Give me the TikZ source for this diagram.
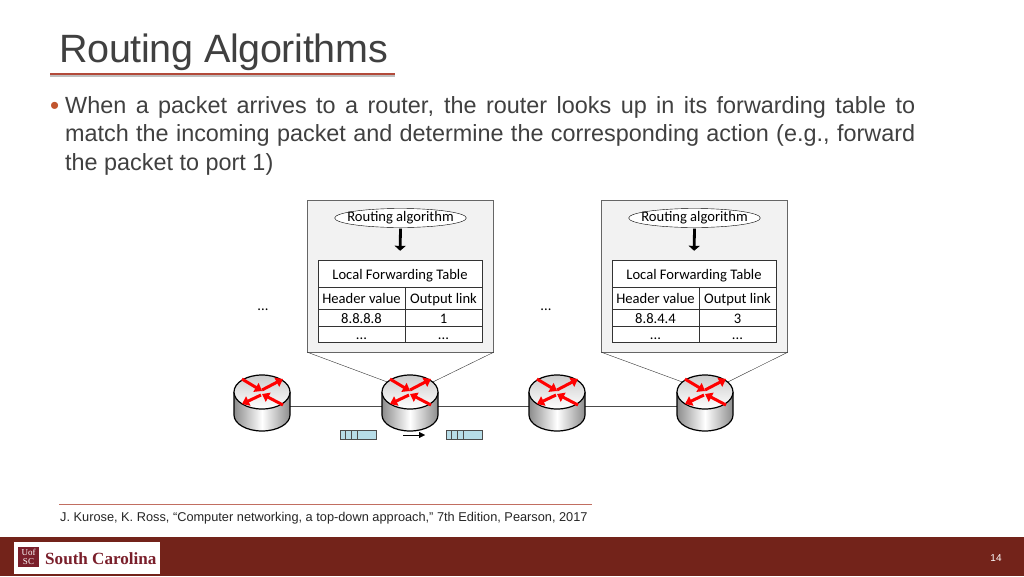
\documentclass[tikz,border=0pt]{standalone}
\usepackage{fontspec}
\usepackage{tikz}
\usetikzlibrary{arrows.meta,shapes.geometric}
\setmainfont{Liberation Sans}
\newfontfamily\tablefont{Carlito}
\newfontfamily\logofont{Liberation Serif}
\definecolor{barred}{HTML}{73231A}
\definecolor{rulered}{HTML}{B24A3A}
\definecolor{logored}{HTML}{7A1F2B}
\definecolor{panelgray}{HTML}{F2F2F2}
\definecolor{queueblue}{HTML}{B7DDE8}
\begin{document}
\begin{tikzpicture}[x=1pt,y=-1pt]
	\tikzstyle{panel}=[rectangle,draw=black!60,fill=panelgray,minimum width=186pt,minimum height=152pt,inner sep=0pt]
	\tikzstyle{algo}=[ellipse,draw=black,fill=white,minimum width=131pt,minimum height=19pt,inner sep=-6.7pt,text height=8pt,text depth=2pt,font=\tablefont\fontsize{14.6}{16}\selectfont]
	\tikzstyle{cell}=[rectangle,draw=black!80,fill=white,inner sep=0pt,text height=11pt,text depth=0pt,font=\tablefont\fontsize{14.6}{16}\selectfont]
	\tikzstyle{routerbox}=[rectangle,minimum width=46pt,minimum height=48pt,inner sep=0pt]
	\tikzstyle{dots}=[inner sep=0pt,font=\tablefont\fontsize{14.6}{16}\selectfont]
	\tikzstyle{queue}=[rectangle,draw=black!70,fill=queueblue,minimum width=36pt,minimum height=9pt,inner sep=0pt]
	\tikzstyle{redarrow}=[red,line width=3pt,-{Triangle[width=10pt,length=7pt]}]
	\useasboundingbox (0,0) rectangle (1024,576);
	\fill[white] (0,0) rectangle (1024,576);
	% header
	\node[anchor=base west,inner sep=0pt,text=black!75,font=\fontsize{39.5}{41}\selectfont\addfontfeatures{LetterSpace=-0.8}] (title) at (59,62.5) {Routing Algorithms};
	\fill[black!25] (50,75) rectangle (395,76.5);
	\draw[rulered,line width=2pt] (50,73.5) -- (395,73.5);
	\node[anchor=base west,inner sep=0pt,text=rulered!80!orange,font=\fontsize{26}{28}\selectfont] (bullet) at (50,114.5) {•};
	\node[anchor=north west,inner sep=0pt,text width=850pt,align=justify,text=black!75,font=\fontsize{23.4}{28.5}\selectfont] (body) at (65,96.2) {When a packet arrives to a router, the router looks up in its forwarding table to match the incoming packet and determine the corresponding action (e.g., forward the packet to port 1)};
	% routers
	\node[routerbox] (r1) at (262,406) {};
	\node[routerbox] (r2) at (410,406) {};
	\node[routerbox] (r3) at (557,406) {};
	\node[routerbox] (r4) at (705,406) {};
	% forwarding panels
	\foreach \i/\dx/\hval/\oval in {1/0/8.8.8.8/1,2/294/8.8.4.4/3}{
		\node[panel] (p\i) at (400.5+\dx,276) {};
		\node[algo] (a\i) at (400.5+\dx,218) {Routing algorithm};
		\node[cell,minimum width=164pt,minimum height=27pt] (t\i) at (400+\dx,273.5) {Local Forwarding Table};
		\node[cell,minimum width=87pt,minimum height=22pt] (h\i) at (361.5+\dx,298) {Header value};
		\node[cell,minimum width=77pt,minimum height=22pt] (o\i) at (443.5+\dx,298) {Output link};
		\node[cell,minimum width=87pt,minimum height=17pt] (v\i) at (361.5+\dx,317.5) {\hval};
		\node[cell,minimum width=77pt,minimum height=17pt] (w\i) at (443.5+\dx,317.5) {\oval};
		\node[cell,minimum width=87pt,minimum height=16pt] (x\i) at (361.5+\dx,334) {...};
		\node[cell,minimum width=77pt,minimum height=16pt] (y\i) at (443.5+\dx,334) {...};
		\draw[line width=2.8pt,-{Triangle[width=11pt,length=5pt]},shorten <=1pt,shorten >=9pt] (a\i.south) -- (t\i.north);
	}
	\node[dots] (d1) at (263,310) {...};
	\node[dots] (d2) at (546,310) {...};
	% links
	\draw[black!70] (r1) -- (r2);
	\draw[black!70] (r2) -- (r3);
	\draw[black!70] (r3) -- (r4);
	\draw[black!80] (p1.south west) -- (r2.north west);
	\draw[black!80] (p1.south east) -- (r2.north east);
	\draw[black!80] (p2.south west) -- (r4.north west);
	\draw[black!80] (p2.south east) -- (r4.north east);
	% router bodies
	\foreach \r in {r1,r2,r3,r4}{
		\begin{scope}[shift={(\r)}]
			\path[left color=black!45,right color=black!45,middle color=white] (-28,-14) -- (-28,9) arc[start angle=180,end angle=0,x radius=28,y radius=16] -- (28,-14) -- cycle;
			\draw[line width=1.2pt] (-28,-14) -- (-28,9) arc[start angle=180,end angle=0,x radius=28,y radius=16] -- (28,-14);
			\draw[line width=1.2pt,top color=black!20,bottom color=white] (0,-14) ellipse[x radius=28,y radius=17];
			\draw[redarrow] (-20,-27) -- (0,-15);
			\draw[redarrow] (0,-16) -- (21,-27);
			\draw[redarrow] (-1,-11) -- (-20,-2);
			\draw[redarrow] (21,-1) -- (0,-12);
		\end{scope}
	}
	% queues
	\foreach \i/\qx in {1/358,2/464.5}{
		\node[queue] (q\i) at (\qx,434.5) {};
		\foreach \k in {-13,-7,-1}
			\draw[black!70] (\qx+\k,430) -- (\qx+\k,439);
	}
	\coordinate (m1) at (403,435);
	\coordinate (m2) at (425,435);
	\draw[-{Triangle[width=6pt,length=6pt]}] (m1) -- (m2);
	% reference
	\draw[rulered!80] (59,504.5) -- (592,504.5);
	\node[anchor=base west,inner sep=0pt,text=black!85,font=\fontsize{12.77}{14}\selectfont] (ref) at (60,521) {J. Kurose, K. Ross, “Computer networking, a top-down approach,” 7th Edition, Pearson, 2017};
	% footer
	\fill[barred] (0,537) rectangle (1024,576);
	\fill[white] (14,542) rectangle (160,574);
	\fill[logored] (18,547) rectangle (39,567);
	\node[align=center,inner sep=0pt,text=white,font=\logofont\fontsize{9}{8.5}\selectfont] (logo1) at (28.5,557) {Uof\\SC};
	\node[anchor=base west,inner sep=0pt,text=logored,font=\logofont\bfseries\fontsize{17.1}{21}\selectfont] (logo2) at (45,564) {South Carolina};
	\node[inner sep=0pt,text=white,font=\fontsize{10}{12}\selectfont] (page) at (996,558) {14};
\end{tikzpicture}
\end{document}
